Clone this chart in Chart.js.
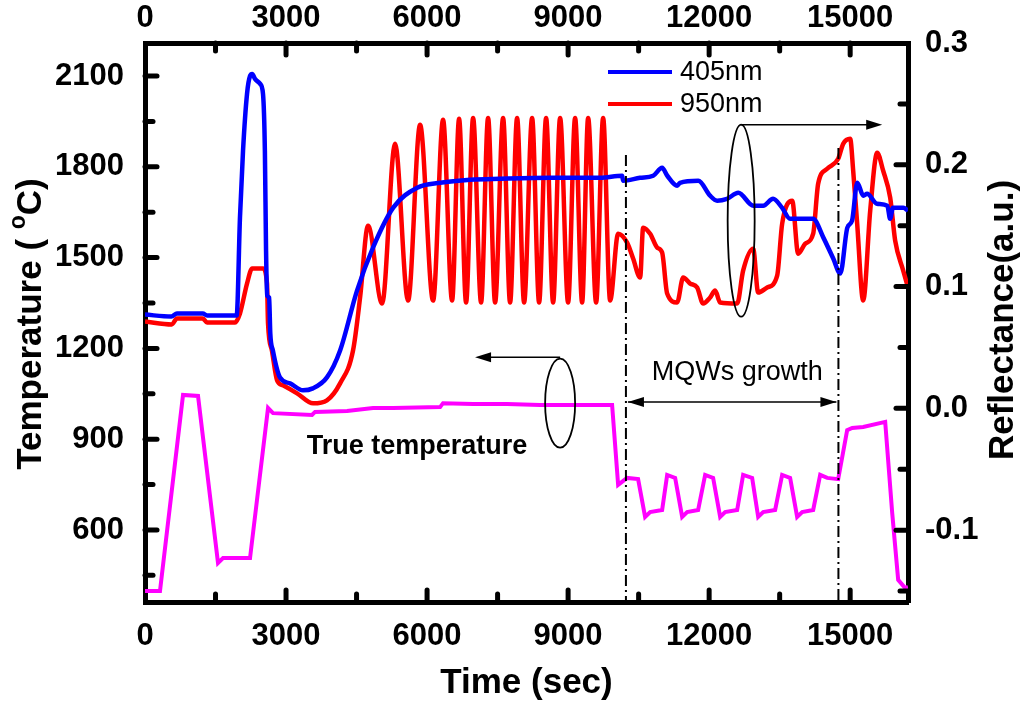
<!DOCTYPE html>
<html><head><meta charset="utf-8">
<script src="https://cdn.jsdelivr.net/npm/chart.js@4/dist/chart.umd.min.js"></script>
<style>html,body{margin:0;padding:0;background:#fff;}#wrap{width:1024px;height:704px;}</style>
</head><body><div id="wrap"><canvas id="c" width="1024" height="704"></canvas></div>
<script>
// ---- data ----
const timeTicks = [0, 3000, 6000, 9000, 12000, 15000];
const tempTicks = [600, 900, 1200, 1500, 1800, 2100];
const reflTicks = [-0.1, 0.0, 0.1, 0.2, 0.3];
const seriesLabels = ['405nm', '950nm', 'True temperature'];

const blueTime = [0,560,680,1230,1320,1950,2020,2085,2170,2235,2280,2340,2450,2510,2550,2575,2600,2640,2665,2720,2870,3085,3360,3570,3870,4150,4510,4850,5280,5790,6280,6920,7550,8620,9680,10150,10170,10530,10810,11000,11110,11320,11380,11770,12020,12170,12380,12620,12940,13150,13360,13550,13720,13940,14210,14430,14640,14790,14940,15040,15150,15280,15360,15570,15790,15850,15910,16130,16230];
const blueRefl = [0.0770,0.0754,0.0779,0.0779,0.0762,0.0762,0.1566,0.2115,0.2582,0.2730,0.2746,0.2705,0.2664,0.2582,0.2115,0.1295,0.0926,0.0910,0.0615,0.0475,0.0254,0.0205,0.0148,0.0164,0.0254,0.0475,0.0967,0.1320,0.1648,0.1811,0.1852,0.1877,0.1885,0.1893,0.1893,0.1910,0.1869,0.1893,0.1910,0.1975,0.1910,0.1828,0.1852,0.1869,0.1746,0.1705,0.1721,0.1770,0.1664,0.1664,0.1721,0.1648,0.1557,0.1557,0.1557,0.1402,0.1230,0.1107,0.1484,0.1541,0.1852,0.1746,0.1762,0.1680,0.1664,0.1557,0.1648,0.1648,0.1623];

const redTime = [0,570,680,1230,1320,1915,2020,2170,2280,2510,2595,2617,2700,2810,2935,3235,3575,3870,4150,4425,4575,4745,5043,5319,5596,5851,6128,6340,6532,6681,6830,6979,7149,7298,7447,7617,7766,7915,8064,8234,8383,8532,8681,8830,9000,9149,9298,9426,9596,9745,9894,10064,10255,10383,10532,10596,10745,10894,11000,11107,11319,11447,11596,11745,11872,12021,12128,12234,12596,12723,12936,13043,13234,13447,13553,13766,13894,14043,14213,14319,14511,14745,14851,15000,15064,15149,15277,15426,15574,15702,15851,15957,16128,16230];
const redRefl = [0.0713,0.0689,0.0738,0.0738,0.0705,0.0705,0.0779,0.1025,0.1148,0.1148,0.1025,0.0697,0.0475,0.0230,0.0189,0.0123,0.0041,0.0066,0.0205,0.0475,0.0910,0.1500,0.0861,0.2172,0.0885,0.2328,0.0885,0.2369,0.0885,0.2377,0.0869,0.2385,0.0869,0.2385,0.0869,0.2385,0.0869,0.2385,0.0869,0.2385,0.0869,0.2385,0.0869,0.2385,0.0869,0.2385,0.0869,0.2385,0.0869,0.2385,0.0885,0.1434,0.1361,0.1230,0.1074,0.1484,0.1434,0.1320,0.1279,0.0943,0.0869,0.1074,0.1025,0.0992,0.0861,0.0910,0.0967,0.0869,0.0861,0.1131,0.1311,0.0951,0.0992,0.1090,0.1516,0.1705,0.1270,0.1352,0.1434,0.1844,0.1967,0.2049,0.2172,0.2213,0.1951,0.1516,0.0885,0.1623,0.2098,0.1951,0.1730,0.1377,0.1131,0.0992];

const trueTime = [0,319,809,1128,1553,1660,2234,2617,2723,3553,3617,4298,4851,5277,6277,6340,6979,7702,8404,9106,9936,10064,10255,10489,10638,10745,11000,11107,11277,11426,11532,11766,11915,12085,12234,12340,12596,12723,12915,13043,13149,13404,13553,13723,13872,13979,14213,14362,14511,14745,14936,15043,15277,15745,15894,16021,16170,16230];
const trueTemp = [398,398,1046,1043,491,507,507,1003,986,980,990,993,1003,1003,1006,1019,1016,1016,1013,1013,1013,749,772,768,643,659,666,782,772,643,659,666,782,772,643,659,666,782,772,643,659,666,782,772,643,659,666,782,772,768,930,937,940,957,656,435,408,412];

const toXY = (xs, ys) => xs.map((t, i) => ({x: t, y: ys[i]}));

// ---- styles ----
const FONT = '"Liberation Sans", Arial, Helvetica, sans-serif';
const TICKFONT = {family: FONT, size: 31, weight: 'bold'};
const plain = v => String(v);

function fixSize(w, h) {
  return function (s) { if (w !== null) s.width = w; if (h !== null) s.height = h; };
}

const overlay = {
  id: 'overlay',
  afterDraw(chart) {
    const ctx = chart.ctx;
    const sx = chart.scales.x, sy = chart.scales.yT, sr = chart.scales.yR;
    const a = chart.chartArea;
    ctx.save();
    // tick marks (inward)
    ctx.strokeStyle = '#000'; ctx.lineCap = 'round'; ctx.lineWidth = 5;
    const line = (x1, y1, x2, y2) => { ctx.beginPath(); ctx.moveTo(x1, y1); ctx.lineTo(x2, y2); ctx.stroke(); };
    const MAJ = 12, MIN = 8;
    for (let v = 0; v <= sx.max; v += 1500) {
      if (v === 0) continue;
      const px = sx.getPixelForValue(v);
      const len = (v % 3000 === 0) ? MAJ : MIN;
      line(px, a.bottom, px, a.bottom - len);
      line(px, a.top, px, a.top + len);
    }
    for (let v = 450; v <= sy.max; v += 150) {
      const py = sy.getPixelForValue(v);
      const len = (v % 300 === 0) ? MAJ : MIN;
      line(a.left, py, a.left + len, py);
    }
    for (let k = -3; k <= 5; k++) {
      const v = k * 0.05;
      if (v < sr.min || v >= sr.max - 1e-9) continue;
      const py = sr.getPixelForValue(v);
      const len = (k % 2 === 0) ? MAJ : MIN;
      line(a.right, py, a.right - len, py);
    }

    // y titles
    ctx.fillStyle = '#000';
    ctx.textBaseline = 'middle';
    ctx.save();
    ctx.translate(31, 324); ctx.rotate(-Math.PI / 2);
    const f1 = 'bold 35px ' + FONT, f2 = 'bold 23px ' + FONT;
    const ta = 'Temperature ( ', tb = 'o', tc = 'C)';
    ctx.font = f1; const wa = ctx.measureText(ta).width, wc = ctx.measureText(tc).width;
    ctx.font = f2; const wb = ctx.measureText(tb).width;
    let x0 = -(wa + wb + wc) / 2;
    ctx.textAlign = 'left';
    ctx.font = f1; ctx.fillText(ta, x0, 0);
    ctx.font = f2; ctx.fillText(tb, x0 + wa, -12);
    ctx.font = f1; ctx.fillText(tc, x0 + wa + wb, 0);
    ctx.restore();
    ctx.save();
    ctx.translate(1003, 320); ctx.rotate(-Math.PI / 2);
    ctx.font = f1; ctx.textAlign = 'center';
    ctx.fillText('Reflectance(a.u.)', 0, 0);
    ctx.restore();

    // legend
    const ds = chart.data.datasets;
    ctx.font = '27px ' + FONT; ctx.textAlign = 'left';
    [0, 1].forEach((i, k) => {
      const ly = 72 + k * 32;
      ctx.strokeStyle = ds[i].borderColor; ctx.lineWidth = 4; ctx.lineCap = 'butt';
      line(608, ly, 672, ly);
      ctx.fillStyle = '#000';
      ctx.fillText(ds[i].label, 680, ly + 1);
    });

    // dash-dot lines marking MQW growth
    ctx.strokeStyle = '#000'; ctx.lineWidth = 2; ctx.setLineDash([11, 4, 2, 4]);
    const tA = 10230, tB = 14750;
    const xa = sx.getPixelForValue(tA), xb = sx.getPixelForValue(tB);
    line(xa, sy.getPixelForValue(1839), xa, a.bottom);
    line(xb, sy.getPixelForValue(1862), xb, a.bottom);
    ctx.setLineDash([]);

    const arrowHead = (x, y, dir) => {
      ctx.beginPath(); ctx.moveTo(x, y);
      ctx.lineTo(x - dir * 16, y - 5); ctx.lineTo(x - dir * 16, y + 5); ctx.closePath(); ctx.fill();
    };
    ctx.fillStyle = '#000'; ctx.lineWidth = 1.5;
    const ay = sy.getPixelForValue(1023);
    line(xa + 2, ay, xb - 2, ay);
    arrowHead(xa + 2, ay, -1); arrowHead(xb - 2, ay, 1);
    ctx.font = '27px ' + FONT; ctx.textAlign = 'center';
    ctx.fillText('MQWs growth', (xa + xb) / 2 + 5, sy.getPixelForValue(1119));

    // right ellipse + arrow (reflectance -> right axis)
    ctx.lineWidth = 1.8;
    const ecx = sx.getPixelForValue(12681), ecy = sr.getPixelForValue(0.1541);
    ctx.beginPath(); ctx.ellipse(ecx, ecy, 13.5, 96, 0, 0, Math.PI * 2); ctx.stroke();
    const ry = ecy - 96;
    ctx.lineWidth = 1.5;
    line(ecx, ry, sx.getPixelForValue(15681) - 4, ry);
    arrowHead(sx.getPixelForValue(15681), ry, 1);

    // left ellipse + arrow (true temperature -> left axis)
    ctx.lineWidth = 1.8;
    const lcx = sx.getPixelForValue(8830), lcy = sy.getPixelForValue(1019);
    ctx.beginPath(); ctx.ellipse(lcx, lcy, 15, 44.5, 0, 0, Math.PI * 2); ctx.stroke();
    ctx.lineWidth = 1.5;
    const lty = lcy - 46;
    line(lcx, lty, sx.getPixelForValue(7021) + 4, lty);
    arrowHead(sx.getPixelForValue(7021), lty, -1);

    ctx.font = 'bold 27px ' + FONT; ctx.textAlign = 'center';
    ctx.fillText(seriesLabels[2], 417, 447);
    ctx.restore();
  }
};

const chart = new Chart(document.getElementById('c'), {
  type: 'line',
  data: {
    datasets: [
      {label: seriesLabels[0], data: toXY(blueTime, blueRefl), xAxisID: 'x', yAxisID: 'yR',
       borderColor: '#0000ff', borderWidth: 4.5, pointRadius: 0, cubicInterpolationMode: 'monotone'},
      {label: seriesLabels[1], data: toXY(redTime, redRefl), xAxisID: 'x', yAxisID: 'yR',
       borderColor: '#ff0000', borderWidth: 4.5, pointRadius: 0, cubicInterpolationMode: 'monotone'},
      {label: seriesLabels[2], data: toXY(trueTime, trueTemp), xAxisID: 'x', yAxisID: 'yT',
       borderColor: '#ff00ff', borderWidth: 4, pointRadius: 0, tension: 0}
    ]
  },
  options: {
    responsive: false, animation: false, devicePixelRatio: 1,
    layout: {padding: 0},
    plugins: {legend: {display: false}, tooltip: {enabled: false}},
    scales: {
      x: {type: 'linear', position: 'bottom', min: 0, max: 16230,
          afterBuildTicks: s => { s.ticks = timeTicks.map(v => ({value: v})); },
          afterFit: fixSize(null, 102),
          grid: {display: false}, border: {display: true, width: 5, color: '#000'},
          ticks: {font: TICKFONT, color: '#000', padding: 8, maxRotation: 0, autoSkip: false, callback: plain},
          title: {display: true, text: 'Time (sec)', color: '#000', font: {family: FONT, size: 35, weight: 'bold'}, padding: {top: 0, bottom: 0}}},
      x2: {type: 'linear', position: 'top', min: 0, max: 16230,
          afterBuildTicks: s => { s.ticks = timeTicks.map(v => ({value: v})); },
          afterFit: fixSize(null, 43),
          grid: {display: false}, border: {display: true, width: 5, color: '#000'},
          ticks: {font: TICKFONT, color: '#000', padding: -2, maxRotation: 0, autoSkip: false, callback: plain}},
      yT: {type: 'linear', position: 'left', min: 362, max: 2209,
          afterBuildTicks: s => { s.ticks = tempTicks.map(v => ({value: v})); },
          afterFit: fixSize(145, null),
          grid: {display: false}, border: {display: true, width: 5, color: '#000'},
          ticks: {font: TICKFONT, color: '#000', padding: 13, callback: plain}},
      yR: {type: 'linear', position: 'right', min: -0.159, max: 0.3,
          afterBuildTicks: s => { s.ticks = reflTicks.map(v => ({value: v})); },
          afterFit: fixSize(116, null),
          grid: {display: false}, border: {display: true, width: 5, color: '#000'},
          ticks: {font: TICKFONT, color: '#000', padding: 9, callback: v => v.toFixed(1)}}
    }
  },
  plugins: [overlay]
});
</script></body></html>
